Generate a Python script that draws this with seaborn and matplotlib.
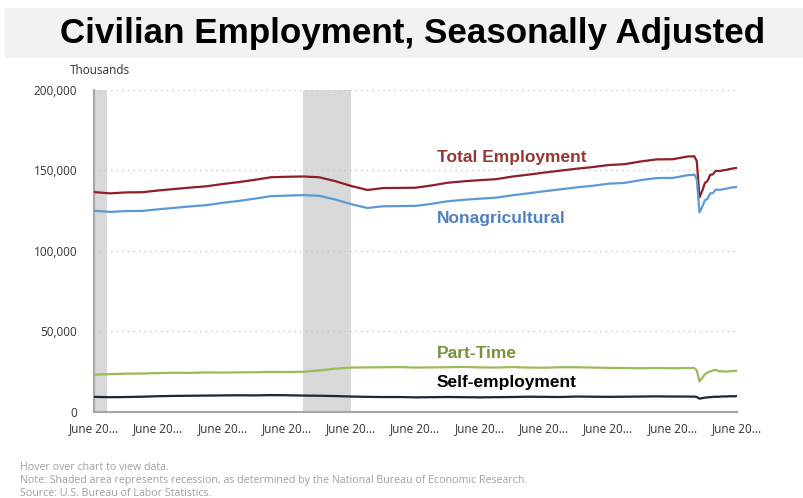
import matplotlib
matplotlib.use("Agg")
import matplotlib.pyplot as plt
import matplotlib.dates as mdates
import seaborn as sns
import pandas as pd
import numpy as np
from matplotlib.patches import Rectangle

# ---- data (thousands) ----
semi_dates = [f"{y}-{m}" for y in range(2001, 2020) for m in ("06", "12")]
monthly_dates = [f"2020-{m:02d}" for m in range(1, 13)] + [f"2021-{m:02d}" for m in range(1, 7)]
dates = semi_dates + monthly_dates

total_employment = [
    136.6, 135.8, 136.4, 136.5, 137.6, 138.5, 139.4, 140.2, 141.6, 142.8,
    144.2, 145.8, 146.1, 146.3, 145.8, 143.4, 140.4, 137.9, 139.1, 139.2,
    139.3, 140.7, 142.4, 143.3, 144.0, 144.6, 146.2, 147.4, 148.7, 149.9,
    151.1, 152.1, 153.4, 153.9, 155.6, 156.9, 157.0, 158.8,
    158.7, 158.9, 155.8, 133.4, 137.2, 142.2, 143.5, 147.3, 147.6, 149.8, 149.7, 149.8,
    150.2, 150.4, 150.8, 151.1, 151.4, 151.6,
]
nonagricultural = [
    125.0, 124.3, 124.8, 124.9, 125.9, 126.8, 127.7, 128.5, 129.9, 131.1,
    132.5, 134.1, 134.4, 134.7, 134.3, 132.0, 129.1, 126.7, 127.8, 127.9,
    128.0, 129.3, 130.9, 131.8, 132.5, 133.1, 134.6, 135.8, 137.1, 138.3,
    139.5, 140.5, 141.8, 142.3, 144.0, 145.3, 145.4, 147.2,
    147.1, 147.6, 144.6, 124.0, 127.3, 131.5, 132.4, 135.8, 136.0, 138.1, 138.0, 138.1,
    138.5, 138.7, 139.1, 139.4, 139.6, 139.9,
]
part_time = [
    23.2, 23.5, 23.8, 23.9, 24.2, 24.4, 24.3, 24.6, 24.5, 24.6,
    24.7, 24.9, 24.8, 25.0, 25.8, 26.9, 27.6, 27.7, 27.8, 27.9,
    27.6, 27.7, 27.8, 28.0, 27.7, 27.6, 27.9, 27.6, 27.5, 27.8,
    27.8, 27.6, 27.4, 27.3, 27.2, 27.3, 27.2, 27.3,
    27.4, 27.3, 25.9, 19.0, 21.0, 23.5, 24.5, 25.2, 25.8, 26.2, 25.5, 25.3,
    25.2, 25.1, 25.3, 25.4, 25.5, 25.6,
]
self_employment = [
    9.4, 9.2, 9.3, 9.5, 9.8, 10.0, 10.1, 10.2, 10.3, 10.4,
    10.3, 10.5, 10.4, 10.2, 10.1, 9.9, 9.6, 9.4, 9.3, 9.3,
    9.1, 9.2, 9.3, 9.2, 9.1, 9.2, 9.3, 9.5, 9.4, 9.3,
    9.6, 9.5, 9.4, 9.5, 9.6, 9.7, 9.6, 9.6,
    9.5, 9.6, 9.3, 8.3, 8.6, 8.9, 9.1, 9.2, 9.4, 9.5, 9.4, 9.6,
    9.7, 9.6, 9.8, 9.8, 9.7, 9.9,
]
series_names = ["Total Employment", "Nonagricultural", "Part-Time", "Self-employment"]
recessions = [("2001-03-01", "2001-11-01"), ("2007-12-01", "2009-06-01")]
y_ticks = [0, 50000, 100000, 150000, 200000]
tick_dates = [f"{y}-06-01" for y in range(2001, 2022, 2)]

line_colors = ["#8E1E28", "#5B9BD5", "#9BBB59", "#1C2733"]
label_colors = ["#953735", "#4F81BD", "#77933C", "#000000"]

# ---- build long table ----
df = pd.DataFrame({
    "date": pd.to_datetime(dates),
    series_names[0]: np.array(total_employment) * 1000,
    series_names[1]: np.array(nonagricultural) * 1000,
    series_names[2]: np.array(part_time) * 1000,
    series_names[3]: np.array(self_employment) * 1000,
})
long = df.melt(id_vars="date", var_name="series", value_name="value")

sns.set_theme(style="white")
plt.rcParams["font.family"] = ["Open Sans", "DejaVu Sans"]

fig = plt.figure(figsize=(8.04, 4.98), dpi=100)
fig.patch.set_facecolor("white")

# title band
fig.patches.append(Rectangle((5 / 804, 1 - 58 / 498), 1, 50 / 498, transform=fig.transFigure,
                             facecolor="#f2f2f2", edgecolor="none", zorder=0))
fig.text(413 / 804, 1 - 34 / 498, "Civilian Employment, Seasonally Adjusted",
         family=["Liberation Sans", "DejaVu Sans"], fontweight="bold", fontsize=25.2,
         ha="center", va="center", color="black")

ax = fig.add_axes([94 / 804, 1 - 412 / 498, (737 - 94) / 804, (412 - 90) / 498])

for start, end in recessions:
    ax.axvspan(pd.Timestamp(start), pd.Timestamp(end), color="#d9d9d9", lw=0, zorder=0)

sns.lineplot(data=long, x="date", y="value", hue="series", hue_order=series_names,
             palette=line_colors, linewidth=1.6, ax=ax, legend=False, zorder=3)

ax.set_xlim(pd.Timestamp("2001-06-01"), pd.Timestamp("2021-06-01"))
ax.set_ylim(0, 200000)
ax.set_yticks(y_ticks)
ax.set_yticklabels([f"{v:,}" for v in y_ticks])
ax.set_xticks(pd.to_datetime(tick_dates))
ax.set_xticklabels(["June 20..."] * len(tick_dates))
ax.set_xlabel("")
ax.set_ylabel("")

ax.grid(axis="y", color="#c8c8c8", linestyle=(0, (1, 3)), linewidth=1)
ax.grid(axis="x", visible=False)
for s in ["top", "right"]:
    ax.spines[s].set_visible(False)
for s in ["left", "bottom"]:
    ax.spines[s].set_color("#a6a6a6")
    ax.spines[s].set_linewidth(1.5)
ax.tick_params(axis="y", length=8, width=1, color="#c8c8c8", labelsize=8.5, labelcolor="#333333", pad=4)
ax.tick_params(axis="x", length=0, labelsize=8.5, labelcolor="#333333", pad=7)

label_y = [158, 219, 353, 383]
for name, col, yp in zip(series_names, label_colors, label_y):
    ax.text((437 - 94) / 643, (412 - yp) / 322, name, transform=ax.transAxes,
            family=["Liberation Sans", "DejaVu Sans"], fontweight="bold", fontsize=12.5,
            color=col, ha="left", va="center", zorder=5)

fig.text(70 / 804, 1 - 71 / 498, "Thousands", fontsize=8.5, color="#333333", ha="left", va="center")

foot = ["Hover over chart to view data.",
        "Note: Shaded area represents recession, as determined by the National Bureau of Economic Research.",
        "Source: U.S. Bureau of Labor Statistics."]
for i, t in enumerate(foot):
    fig.text(20 / 804, 1 - (467 + 13 * i) / 498, t, fontsize=7.7, color="#a0a0a0", ha="left", va="center")

fig.savefig("out.png", dpi=100)
